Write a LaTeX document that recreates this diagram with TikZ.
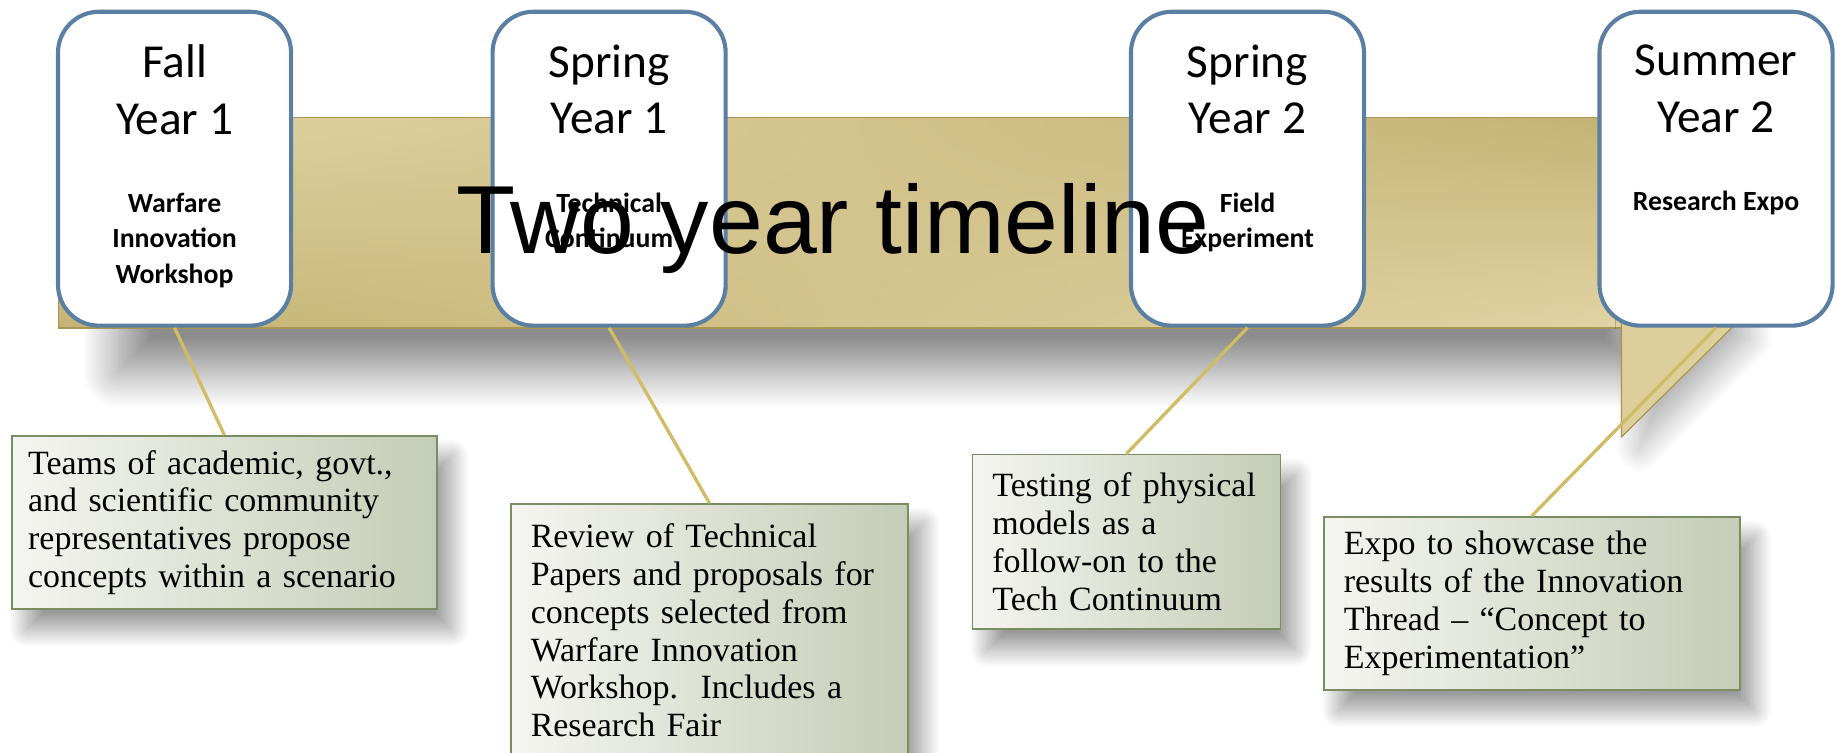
\documentclass[tikz,border=0pt]{standalone}
\usepackage{fontspec}
\setmainfont{Liberation Serif}
\newfontfamily\calfont{Carlito}
\newfontfamily\headfont{Liberation Sans}
\usepackage{tikz}
\usetikzlibrary{positioning,shadows.blur,fadings}

\definecolor{boxblue}{RGB}{90,127,163}
\definecolor{goldlight}{RGB}{226,212,164}
\definecolor{golddark}{RGB}{197,179,117}
\definecolor{goldtab}{RGB}{222,206,155}
\definecolor{goldedge}{RGB}{168,150,85}
\definecolor{linkgold}{RGB}{207,188,100}
\definecolor{notelight}{RGB}{244,245,240}
\definecolor{notedark}{RGB}{196,205,182}
\definecolor{noteedge}{RGB}{122,140,98}

\newcommand{\datetext}[2]{%
 \parbox[c][5.36cm][t]{3.98cm}{\calfont\centering
 \vspace*{16pt}{\fontsize{23}{27.5}\selectfont #1\par}
 \vspace{20.7pt}{\bfseries\fontsize{13.5}{17.3}\selectfont #2\par}}}

\begin{document}
\begin{tikzpicture}[x=0.02cm,y=-0.02cm,node distance=3cm,on grid,
 datebox/.style={draw=boxblue,line width=2pt,rounded corners=0.7cm,fill=white,inner sep=0pt},
 note/.style={draw=noteedge,line width=0.8pt,left color=notelight,right color=notedark,
 align=left,inner xsep=0.34cm,inner ysep=0pt,font=\fontsize{16.5}{18.4}\selectfont,
 blur shadow={shadow xshift=0.25cm,shadow yshift=-0.35cm,shadow blur radius=0.3cm,
 shadow blur steps=25,shadow opacity=40}},
 link/.style={draw=linkgold,line width=1.6pt}]

 \useasboundingbox (0,0) rectangle (1568,642);

 % ribbon behind the boxes
 \path[blur shadow={shadow xshift=0cm,shadow yshift=0cm,shadow blur radius=0.6cm,
 shadow blur steps=25,shadow opacity=45}] (100,250) rectangle (1400,318);
 \shade[top color=goldlight,bottom color=golddark] (50,100) rectangle (1384,280);
 \shade[top color=golddark,bottom color=goldlight,path fading=west] (50,100) rectangle (1384,280);
 \draw[goldedge,line width=0.6pt] (50,100) rectangle (1384,280);
 \draw[goldedge,line width=0.6pt,fill=goldtab,
 blur shadow={shadow xshift=0.3cm,shadow yshift=-0.2cm,shadow blur radius=0.4cm,
 shadow blur steps=25,shadow opacity=30}]
 (1384,30) -- (1384,373) -- (1478,280) -- (1478,30) -- cycle;

 \node[datebox] (fall) at (149,144) {\datetext{Fall\\Year 1}{Warfare\\Innovation\\Workshop}};
 \node[datebox] (spring1) [right=7.42cm of fall] {\datetext{Spring\\Year 1}{Technical\\Continuum}};
 \node[datebox] (spring2) [right=10.9cm of spring1] {\datetext{Spring\\Year 2}{Field\\Experiment}};
 \node[datebox] (summer) [right=8cm of spring2] {\datetext{Summer\\Year 2}{Research Expo}};

 \node[anchor=base,font=\headfont\fontsize{47}{50}\selectfont] (title) at (711,216) {Two year timeline};

 \node[note,text width=6.7cm,inner xsep=0.28cm,minimum height=2.96cm] (teams) at (191.5,446)
 {Teams of academic, govt.,\\and scientific community\\representatives propose\\concepts within a scenario};
 \node[note,text width=6.1cm,minimum height=4.32cm] (review) at (605.5,538)
 {Review of Technical\\Papers and proposals for\\concepts selected from\\Warfare Innovation\\Workshop.\ \ Includes a\\Research Fair};
 \node[note,text width=4.58cm,minimum height=2.98cm] (testing) at (961.5,462.5)
 {Testing of physical\\models as a\\follow-on to the\\Tech Continuum};
 \node[note,text width=6.42cm,minimum height=2.96cm] (expo) at (1307.5,515)
 {Expo to showcase the\\results of the Innovation\\Thread – “Concept to\\Experimentation”};

 \draw[link] (fall.south) -- (teams.north);
 \draw[link] (spring1.south) -- (review.north);
 \draw[link] (spring2.south) -- (testing.north);
 \draw[link] (summer.south) -- (expo.north);
\end{tikzpicture}
\end{document}
